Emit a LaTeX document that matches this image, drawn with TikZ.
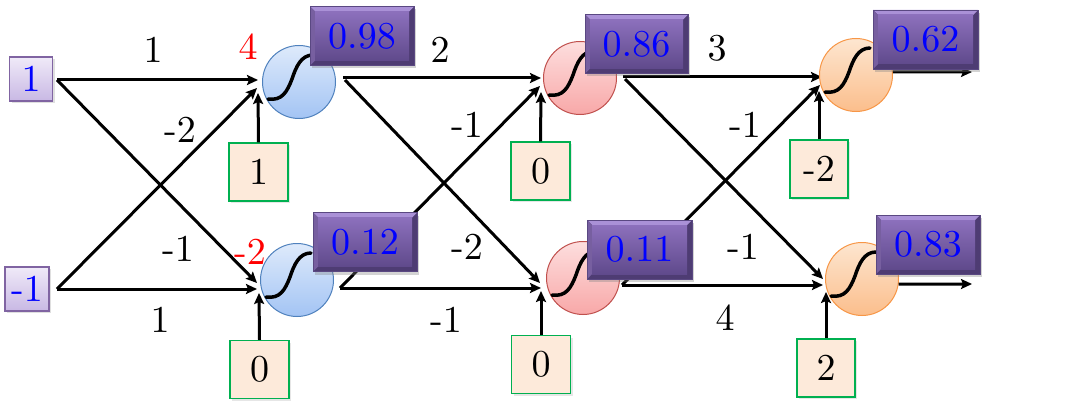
\documentclass[tikz,border=0pt]{standalone}
\usetikzlibrary{arrows.meta,shadows}
\font\bigrm=cmr10 at 38pt
\definecolor{txtblue}{RGB}{0,0,255}
\definecolor{intop}{RGB}{240,234,248}
\definecolor{inbot}{RGB}{200,184,228}
\definecolor{inborder}{RGB}{128,100,162}
\definecolor{bfill}{RGB}{253,234,218}
\definecolor{bborder}{RGB}{0,176,80}
\definecolor{otop}{RGB}{140,112,188}
\definecolor{obot}{RGB}{96,74,140}
\definecolor{olight}{RGB}{170,145,215}
\definecolor{odark}{RGB}{78,60,115}
\definecolor{oborder}{RGB}{90,72,130}
\definecolor{bltop}{RGB}{222,234,251}
\definecolor{blbot}{RGB}{163,196,244}
\definecolor{blborder}{RGB}{79,129,189}
\definecolor{rdtop}{RGB}{253,222,222}
\definecolor{rdbot}{RGB}{248,168,168}
\definecolor{rdborder}{RGB}{192,80,77}
\definecolor{ortop}{RGB}{253,230,208}
\definecolor{orbot}{RGB}{251,190,140}
\definecolor{orborder}{RGB}{247,150,70}
\begin{document}
\begin{tikzpicture}[x=1pt,y=-1pt,
  fnt/.style={font=\bigrm},
  lbl/.style={fnt, inner sep=0},
  inbox/.style={fnt, draw=inborder, line width=1.2pt, top color=intop, bottom color=inbot,
    minimum width=43pt, minimum height=44pt, inner sep=0, text=txtblue,
    drop shadow={opacity=0.25, shadow xshift=2pt, shadow yshift=-2pt}},
  biasbox/.style={fnt, draw=bborder, line width=1.2pt, fill=bfill,
    minimum width=59pt, minimum height=58pt, inner sep=0,
    drop shadow={opacity=0.2, shadow xshift=2pt, shadow yshift=-2pt}},
  outbox/.style={fnt, draw=oborder, line width=0.8pt, fill=odark,
    minimum width=104pt, minimum height=59pt, inner sep=0, text=txtblue,
    drop shadow={opacity=0.35, shadow xshift=2pt, shadow yshift=-3pt},
    path picture={
      \fill[olight] (path picture bounding box.north west) -- (path picture bounding box.north east)
        -- ([shift={(-5pt,-5pt)}]path picture bounding box.north east) -- ([shift={(5pt,-5pt)}]path picture bounding box.north west) -- cycle;
      \fill[otop!85!black] (path picture bounding box.north west) -- ([shift={(5pt,-5pt)}]path picture bounding box.north west)
        -- ([shift={(5pt,5pt)}]path picture bounding box.south west) -- (path picture bounding box.south west) -- cycle;
      \shade[top color=otop, bottom color=obot] ([shift={(5pt,-5pt)}]path picture bounding box.north west) rectangle ([shift={(-5pt,5pt)}]path picture bounding box.south east);
    }},
  neuron/.style={circle, minimum size=73pt, inner sep=0, line width=1pt},
  blueneuron/.style={neuron, draw=blborder, top color=bltop, bottom color=blbot},
  redneuron/.style={neuron, draw=rdborder, top color=rdtop, bottom color=rdbot},
  orneuron/.style={neuron, draw=orborder, top color=ortop, bottom color=orbot},
  arr/.style={line width=3pt, -{Stealth[length=11pt,width=10pt,inset=2pt]}},
  sig/.style={line width=3.5pt, line cap=round}
]
\useasboundingbox (0,0) rectangle (1068,401);

% ---------- nodes ----------
\node[inbox] (i1) at (31,79) {1};
\node[inbox, minimum width=44pt] (i2) at (27,289) {-1};

\node[biasbox] (b1) at (258.5,172) {1};
\node[biasbox] (b2) at (259.5,369.5) {0};
\node[biasbox] (b3) at (540.5,171) {0};
\node[biasbox] (b4) at (541,364.5) {0};
\node[biasbox, minimum width=58pt] (b5) at (819,169) {-2};
\node[biasbox, minimum width=58pt] (b6) at (826,368) {2};

% ---------- connector endpoints ----------
\coordinate (s11) at (57,80);   \coordinate (s21) at (57,289);
\coordinate (t1a) at (258,80);  \coordinate (t1b) at (257,88);  \coordinate (t1c) at (258,93);
\coordinate (t2a) at (257,283); \coordinate (t2b) at (257,289); \coordinate (t2c) at (259,293);
\coordinate (s12a) at (343,78); \coordinate (s12b) at (345,80); \coordinate (s22) at (340,288);
\coordinate (t3a) at (541,78);  \coordinate (t3b) at (540,86);  \coordinate (t3c) at (541,92);
\coordinate (t4a) at (540,283); \coordinate (t4b) at (541,288); \coordinate (t4c) at (541,291);
\coordinate (s13a) at (623,77); \coordinate (s13b) at (625,79); \coordinate (s23) at (622,285);
\coordinate (t5a) at (822,77);  \coordinate (t5b) at (820,85);  \coordinate (t5c) at (819,91);
\coordinate (t6a) at (823,279); \coordinate (t6b) at (823,285); \coordinate (t6c) at (826,292);
\coordinate (o5end) at (972,72); \coordinate (o6end) at (972,284);

% ---------- connectors ----------
\draw[arr] (s11) -- (t1a);
\draw[arr] (s11) -- (t2a);
\draw[arr] (s21) -- (t1b);
\draw[arr] (s21) -- (t2b);
\draw[arr] (b1.north) -- (t1c);
\draw[arr] (b2.north) -- (t2c);

\draw[arr] (s12a) -- (t3a);
\draw[arr] (s12b) -- (t4a);
\draw[arr] (s22) -- (t3b);
\draw[arr] (s22) -- (t4b);
\draw[arr] (b3.north) -- (t3c);
\draw[arr] (b4.north) -- (t4c);

\draw[arr] (s13a) -- (t5a);
\draw[arr] (s13b) -- (t6a);
\draw[arr] (s23) -- (t5b);
\draw[arr] (s23) -- (t6b);
\draw[arr] (b5.north) -- (t5c);
\draw[arr] (b6.north) -- (t6c);

% ---------- neurons ----------
\node[blueneuron] (n1) at (299,82) {};
\node[blueneuron] (n2) at (297,280) {};
\node[redneuron] (n3) at (580,78) {};
\node[redneuron] (n4) at (583,278) {};
\node[orneuron] (n5) at (856,75) {};
\node[orneuron] (n6) at (862,279) {};

\draw[arr] (n5.5) -- (o5end);
\draw[arr] (n6.-8) -- (o6end);

\foreach \n in {n1,n2,n3,n4,n5,n6}{
  \draw[sig] ([shift={(-31,17)}]\n.center) .. controls ([shift={(-17,19)}]\n.center) and ([shift={(-12,10)}]\n.center) .. ([shift={(-7,-3)}]\n.center)
     .. controls ([shift={(-3,-15)}]\n.center) and ([shift={(2,-27)}]\n.center) .. ([shift={(14,-27)}]\n.center);
}

% ---------- output boxes ----------
\node[outbox] (o1) at (362,36) {0.98};
\node[outbox] (o2) at (365,242) {0.12};
\node[outbox, minimum width=103pt] (o3) at (636.5,44) {0.86};
\node[outbox, minimum width=105pt] (o4) at (639.5,249.5) {0.11};
\node[outbox, minimum width=105pt] (o5) at (925.5,39.5) {0.62};
\node[outbox] (o6) at (928,244.5) {0.83};

% ---------- weight labels ----------
\node[lbl] (w1) at (153,50) {1};
\node[lbl] (w2) at (180,130) {-2};
\node[lbl, text=red] (z1) at (248,47) {4};
\node[lbl] (w3) at (178,249) {-1};
\node[lbl] (w4) at (160,320) {1};
\node[lbl, text=red] (z2) at (250,252) {-2};

\node[lbl] (w5) at (440,50) {2};
\node[lbl] (w6) at (467,125) {-1};
\node[lbl] (w7) at (467,247) {-2};
\node[lbl] (w8) at (446,320) {-1};

\node[lbl] (w9) at (717,48) {3};
\node[lbl] (w10) at (745,125) {-1};
\node[lbl] (w11) at (743,247) {-1};
\node[lbl] (w12) at (725,318) {4};
\end{tikzpicture}
\end{document}
